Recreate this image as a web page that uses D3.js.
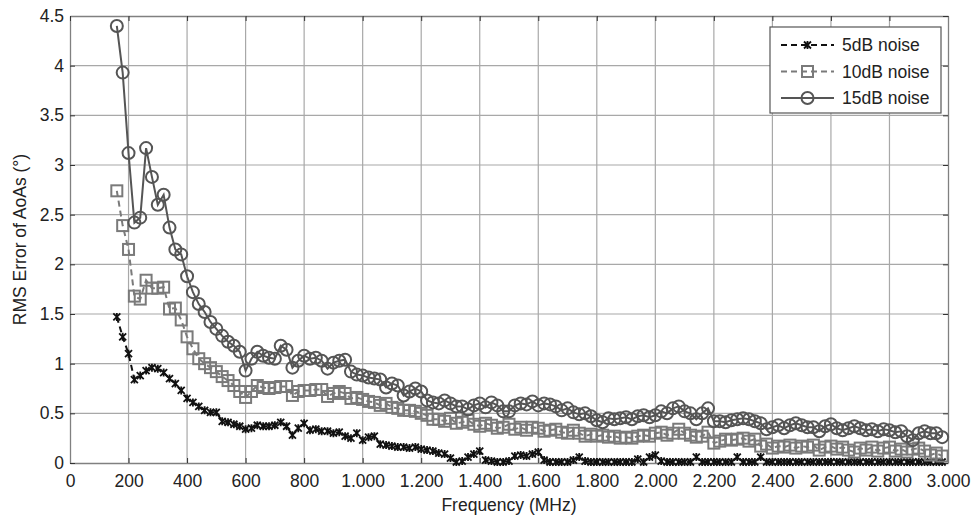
<!DOCTYPE html>
<html><head><meta charset="utf-8">
<script src="https://cdn.jsdelivr.net/npm/d3@7"></script>
<style>
body{margin:0;background:#fff;}
text{font-family:"Liberation Sans",Arial,sans-serif;}
</style></head>
<body><svg id="chart" width="974" height="522"></svg>
<script>
// ---- DATA ----
const freqStart = 160, freqStep = 20;
const noise5dB = [1.47,1.27,1.10,0.84,0.88,0.93,0.96,0.95,0.91,0.85,0.80,0.73,0.65,0.61,0.57,0.53,0.51,0.51,0.42,0.41,
0.39,0.37,0.34,0.35,0.38,0.37,0.37,0.38,0.41,0.37,0.28,0.35,0.40,0.33,0.34,0.32,0.32,0.30,0.31,0.27,
0.25,0.30,0.23,0.26,0.27,0.19,0.18,0.17,0.16,0.16,0.15,0.16,0.14,0.13,0.12,0.10,0.09,0.05,0.01,0.02,
0.06,0.09,0.12,0.03,0.02,0.01,0.01,0.02,0.07,0.08,0.07,0.09,0.11,0.03,0.01,0.01,0.01,0.01,0.03,0.06,
0.02,0.01,0.01,0.01,0.01,0.01,0.01,0.01,0.01,0.04,0.01,0.06,0.08,0.02,0.01,0.01,0.01,0.01,0.01,0.06,
0.01,0.01,0.01,0.01,0.01,0.01,0.06,0.01,0.01,0.01,0.06,0.01,0.01,0.01,0.01,0.01,0.01,0.01,0.01,0.01,
0.01,0.01,0.01,0.01,0.01,0.01,0.01,0.01,0.01,0.01,0.01,0.01,0.01,0.01,0.01,0.01,0.01,0.01,0.01,0.01,
0.01,0.01];
const noise10dB = [2.74,2.39,2.15,1.68,1.65,1.84,1.76,1.76,1.77,1.55,1.56,1.44,1.27,1.15,1.05,1.00,0.96,0.92,0.87,0.83,
0.78,0.72,0.66,0.72,0.78,0.76,0.75,0.76,0.77,0.77,0.68,0.72,0.73,0.73,0.74,0.74,0.67,0.70,0.72,0.70,
0.65,0.66,0.64,0.62,0.61,0.58,0.60,0.56,0.55,0.53,0.53,0.52,0.50,0.48,0.44,0.44,0.42,0.45,0.40,0.41,
0.43,0.39,0.37,0.40,0.38,0.35,0.36,0.39,0.34,0.36,0.33,0.36,0.35,0.32,0.33,0.34,0.31,0.30,0.33,0.30,
0.27,0.29,0.27,0.28,0.26,0.27,0.25,0.26,0.25,0.27,0.28,0.27,0.30,0.31,0.28,0.30,0.34,0.30,0.28,0.26,
0.27,0.31,0.20,0.22,0.24,0.23,0.24,0.25,0.22,0.24,0.17,0.19,0.15,0.17,0.16,0.18,0.15,0.17,0.16,0.18,
0.13,0.16,0.17,0.14,0.16,0.13,0.11,0.15,0.13,0.16,0.12,0.15,0.16,0.12,0.14,0.11,0.14,0.15,0.12,0.08,
0.10,0.07];
const noise15dB = [4.40,3.93,3.12,2.42,2.47,3.17,2.88,2.60,2.70,2.37,2.15,2.10,1.88,1.72,1.60,1.52,1.42,1.35,1.28,1.22,
1.18,1.12,0.93,1.05,1.12,1.08,1.06,1.05,1.18,1.14,0.96,1.03,1.08,1.05,1.06,1.03,0.95,1.01,1.03,1.04,
0.92,0.89,0.88,0.86,0.85,0.84,0.76,0.80,0.78,0.68,0.72,0.75,0.72,0.63,0.61,0.60,0.63,0.60,0.57,0.57,
0.54,0.58,0.60,0.56,0.61,0.58,0.52,0.52,0.58,0.60,0.59,0.62,0.58,0.60,0.59,0.57,0.53,0.55,0.51,0.49,
0.50,0.47,0.43,0.41,0.45,0.44,0.45,0.46,0.44,0.47,0.48,0.46,0.48,0.52,0.50,0.55,0.57,0.52,0.50,0.44,
0.50,0.55,0.42,0.42,0.41,0.43,0.44,0.45,0.44,0.42,0.40,0.34,0.36,0.38,0.35,0.38,0.40,0.38,0.36,0.36,
0.32,0.37,0.39,0.35,0.33,0.35,0.37,0.35,0.33,0.34,0.32,0.34,0.33,0.31,0.32,0.27,0.23,0.30,0.32,0.30,
0.30,0.26];
const seriesNames = ["5dB noise","10dB noise","15dB noise"];
const xTicks = [0,200,400,600,800,1000,1200,1400,1600,1800,2000,2200,2400,2600,2800,3000];
const yTicks = [0,0.5,1,1.5,2,2.5,3,3.5,4,4.5];

// ---- LAYOUT ----
const svg = d3.select("#chart");
const L=70, R=948, T=16, B=463;
const x = d3.scaleLinear().domain([0,3000]).range([L,R]);
const y = d3.scaleLinear().domain([0,4.5]).range([B,T]);
const fmtX = v => v>=1000 ? d3.format(",")(v).replace(/,/g,".") : String(v);

// grid
const grid = svg.append("g");
grid.selectAll(".gx").data(xTicks.slice(1,-1)).join("line")
  .attr("x1",d=>x(d)).attr("x2",d=>x(d)).attr("y1",T).attr("y2",B)
  .attr("stroke","#a8a8a8").attr("stroke-width",1.2);
grid.selectAll(".gy").data(yTicks.slice(1,-1)).join("line")
  .attr("x1",L).attr("x2",R).attr("y1",d=>y(d)).attr("y2",d=>y(d))
  .attr("stroke","#a8a8a8").attr("stroke-width",1.2);

// axes
const ax = svg.append("g").attr("transform",`translate(0,${B})`)
  .call(d3.axisBottom(x).tickValues(xTicks).tickFormat(fmtX).tickSizeInner(-5).tickSizeOuter(0).tickPadding(12));
const ay = svg.append("g").attr("transform",`translate(${L},0)`)
  .call(d3.axisLeft(y).tickValues(yTicks).tickFormat(d3.format("~g")).tickSizeInner(-5).tickSizeOuter(0).tickPadding(6));
const axT = svg.append("g").attr("transform",`translate(0,${T})`)
  .call(d3.axisTop(x).tickValues(xTicks).tickFormat("").tickSizeInner(-5).tickSizeOuter(0));
const ayR = svg.append("g").attr("transform",`translate(${R},0)`)
  .call(d3.axisRight(y).tickValues(yTicks).tickFormat("").tickSizeInner(-5).tickSizeOuter(0));
[ax,ay,axT,ayR].forEach(g=>{
  g.select(".domain").attr("stroke","#808080").attr("stroke-width",1.3);
  g.selectAll(".tick line").attr("stroke","#333");
  g.selectAll("text").attr("font-size",17.5).attr("fill","#222")
   .attr("font-family","'Liberation Sans',Arial,sans-serif");
});

// axis titles
svg.append("text").attr("x",(L+R)/2).attr("y",511).attr("text-anchor","middle")
  .attr("font-size",17.5).attr("fill","#222").text("Frequency (MHz)");
svg.append("text").attr("transform",`translate(26,${(T+B)/2}) rotate(-90)`).attr("text-anchor","middle")
  .attr("font-size",17.5).attr("fill","#222").text("RMS Error of AoAs (°)");

// series
const styles = [
  {data:noise5dB, color:"#111", dash:"6,4", marker:"x"},
  {data:noise10dB, color:"#7a7a7a", dash:"6,4", marker:"square"},
  {data:noise15dB, color:"#555", dash:null, marker:"circle"}
];
const line = d3.line().x(d=>x(d.f)).y(d=>y(d.v));
function drawMarker(g, type, color){
  if(type==="circle"){
    g.append("circle").attr("r",6).attr("fill","none").attr("stroke",color).attr("stroke-width",2);
  } else if(type==="square"){
    g.append("rect").attr("x",-5.5).attr("y",-5.5).attr("width",11).attr("height",11)
      .attr("fill","none").attr("stroke",color).attr("stroke-width",2);
  } else {
    g.append("path").attr("d","M-3.5,-3.5L3.5,3.5M-3.5,3.5L3.5,-3.5M0,-4L0,4").attr("stroke",color).attr("stroke-width",1.8).attr("fill","none");
  }
}
styles.forEach(s=>{
  const pts = s.data.map((v,i)=>({f:freqStart+i*freqStep, v}));
  const g = svg.append("g");
  g.append("path").datum(pts).attr("d",line).attr("fill","none")
    .attr("stroke",s.color).attr("stroke-width",2).attr("stroke-dasharray",s.dash);
  g.selectAll(".m").data(pts).join("g").attr("transform",d=>`translate(${x(d.f)},${y(d.v)})`)
    .each(function(){ drawMarker(d3.select(this), s.marker, s.color); });
});

// legend
const lg = svg.append("g");
lg.append("rect").attr("x",770).attr("y",27).attr("width",171).attr("height",86)
  .attr("fill","#fff").attr("stroke","#555").attr("stroke-width",1.2);
styles.forEach((s,i)=>{
  const cy = 45 + i*26.5;
  lg.append("line").attr("x1",781).attr("x2",834).attr("y1",cy).attr("y2",cy)
    .attr("stroke",s.color).attr("stroke-width",2).attr("stroke-dasharray",s.dash);
  const mg = lg.append("g").attr("transform",`translate(807.5,${cy})`);
  drawMarker(mg, s.marker, s.color);
  lg.append("text").attr("x",842).attr("y",cy+6).attr("font-size",17.5).attr("fill","#222").text(seriesNames[i]);
});
</script></body></html>
